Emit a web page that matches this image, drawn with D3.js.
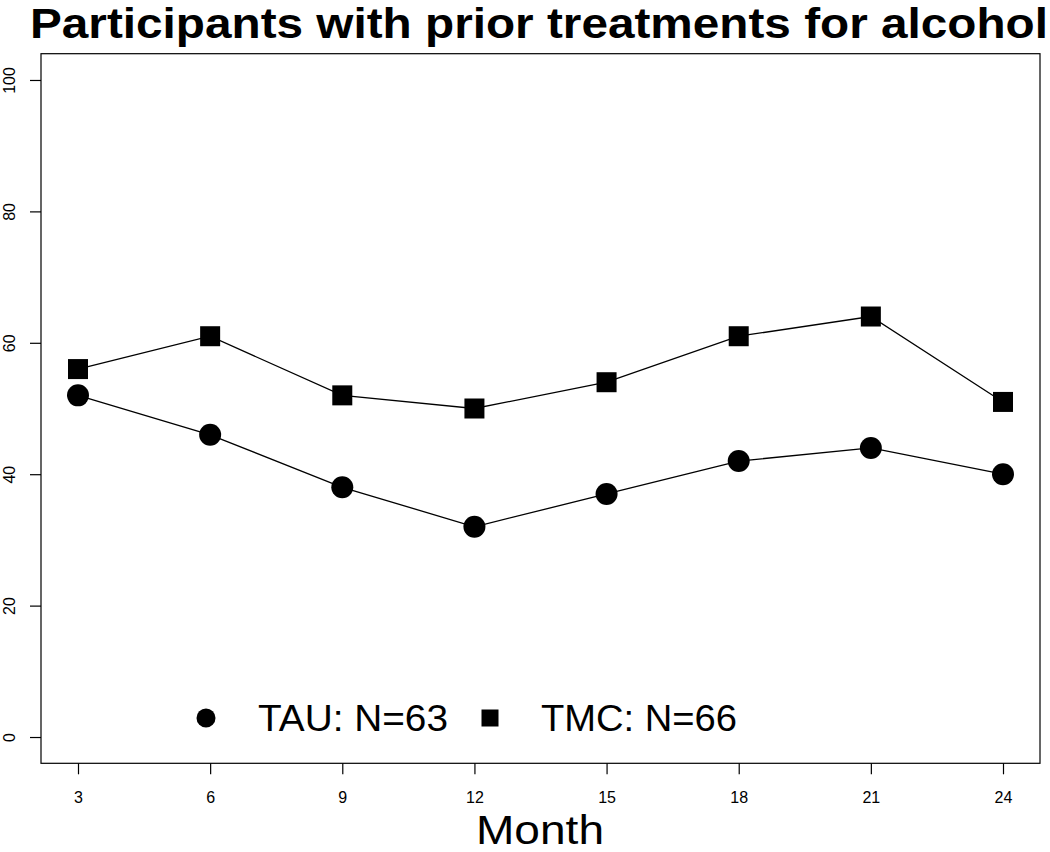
<!DOCTYPE html>
<html><head><meta charset="utf-8">
<script src="https://cdn.jsdelivr.net/npm/d3@7"></script>
<style>body{margin:0;background:#fff}svg{display:block}text{font-family:"Liberation Sans",Arial,Helvetica,sans-serif}</style>
</head><body>
<script>
const months = [3, 6, 9, 12, 15, 18, 21, 24];
const tau = [52, 46, 38, 32, 37, 42, 44, 40];
const tmc = [56, 61, 52, 50, 54, 61, 64, 51];
const yTicks = [0, 20, 40, 60, 80, 100];
const legendLabels = ["TAU: N=63", "TMC: N=66"];
const titleText = "Participants with prior treatments for alcohol";
const xLabel = "Month";

const W = 1050, H = 852;
const svg = d3.select("body").append("svg").attr("width", W).attr("height", H);
const x = d3.scaleLinear().domain([3 - 0.84, 24 + 0.84]).range([41, 1040]);
const y = d3.scaleLinear().domain([-4, 104]).range([763.3, 53.7]);

// box
svg.append("rect").attr("x", 41).attr("y", 53.7).attr("width", 999).attr("height", 763.3 - 53.7)
  .attr("fill", "none").attr("stroke", "#000").attr("stroke-width", 1.2);

// x axis
const xa = svg.append("g").attr("transform", "translate(0,763.3)")
  .call(d3.axisBottom(x).tickValues(months).tickSize(11).tickPadding(17).tickFormat(d3.format("d")));
xa.select(".domain").remove();
xa.selectAll("text").attr("font-size", 16).attr("fill", "#000");
xa.selectAll("line").attr("stroke", "#000").attr("stroke-width", 1.2);

// y axis
const ya = svg.append("g").attr("transform", "translate(41,0)")
  .call(d3.axisLeft(y).tickValues(yTicks).tickSize(11).tickFormat(d3.format("d")));
ya.select(".domain").remove();
ya.selectAll("line").attr("stroke", "#000").attr("stroke-width", 1.2);
ya.selectAll("text").attr("font-size", 16).attr("fill", "#000")
  .attr("text-anchor", "middle").attr("x", 0).attr("dy", 0)
  .attr("transform", "translate(-26,0) rotate(-90)");

const line = d3.line().x((d, i) => x(months[i])).y(d => y(d));
svg.append("path").datum(tmc).attr("d", line).attr("fill", "none").attr("stroke", "#000").attr("stroke-width", 1.3);
svg.append("path").datum(tau).attr("d", line).attr("fill", "none").attr("stroke", "#000").attr("stroke-width", 1.3);

svg.selectAll(".sq").data(tmc).enter().append("rect")
  .attr("x", (d, i) => x(months[i]) - 10).attr("y", d => y(d) - 10)
  .attr("width", 20).attr("height", 20).attr("fill", "#000");
svg.selectAll(".ci").data(tau).enter().append("circle")
  .attr("cx", (d, i) => x(months[i])).attr("cy", d => y(d)).attr("r", 11).attr("fill", "#000");

// legend
const lg = svg.append("g");
lg.append("circle").attr("cx", 206).attr("cy", 718).attr("r", 9.5).attr("fill", "#000");
lg.append("rect").attr("x", 490 - 8.5).attr("y", 718 - 8.5).attr("width", 17).attr("height", 17).attr("fill", "#000");
lg.append("text").attr("x", 258).attr("y", 731).attr("font-size", 36).attr("textLength", 190).attr("lengthAdjust", "spacingAndGlyphs").text(legendLabels[0]);
lg.append("text").attr("x", 541).attr("y", 731).attr("font-size", 36).attr("textLength", 196).attr("lengthAdjust", "spacingAndGlyphs").text(legendLabels[1]);

// title
svg.append("text").attr("x", 30).attr("y", 38).attr("font-size", 42).attr("font-weight", "bold")
  .attr("textLength", 1018).attr("lengthAdjust", "spacingAndGlyphs").text(titleText);

// x label
svg.append("text").attr("x", 540).attr("y", 843.5).attr("text-anchor", "middle").attr("font-size", 40)
  .attr("textLength", 128).attr("lengthAdjust", "spacingAndGlyphs").text(xLabel);
</script>
</body></html>
